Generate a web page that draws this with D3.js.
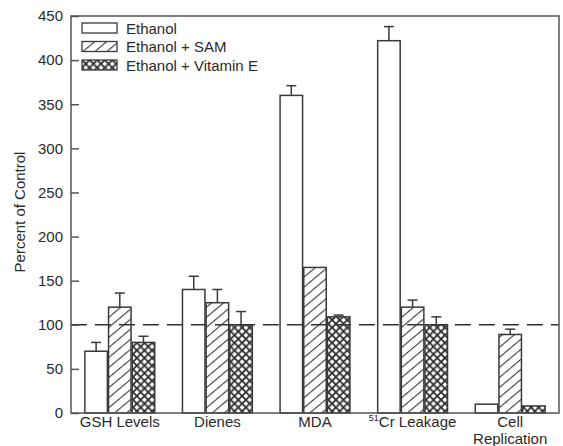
<!DOCTYPE html>
<html>
<head>
<meta charset="utf-8">
<script src="https://cdn.jsdelivr.net/npm/d3@7"></script>
<style>
  body { margin: 0; background: #fff; }
  svg { font-family: "Liberation Sans", Arial, sans-serif; }
</style>
</head>
<body>
<svg id="chart" width="563" height="446"></svg>
<script>
// --- Data ---
const categories = ["GSH Levels", "Dienes", "MDA", "Cr Leakage", "Cell Replication"];
const seriesNames = ["Ethanol", "Ethanol + SAM", "Ethanol + Vitamin E"];
const ethanolValues = [70, 140, 360, 422, 10];
const samValues = [120, 125, 165, 120, 89];
const vitEValues = [80, 100, 109, 100, 8];
const ethanolErrors = [10, 15, 11, 16, 0];
const samErrors = [16, 15, 0, 8, 6];
const vitEErrors = [7, 15, 2, 9, 0];
const yTicks = [0, 50, 100, 150, 200, 250, 300, 350, 400, 450];
const controlLevel = 100;

const seriesValues = [ethanolValues, samValues, vitEValues];
const seriesErrors = [ethanolErrors, samErrors, vitEErrors];
const data = categories.map((c, i) => ({
    category: c,
    bars: seriesNames.map((s, j) => ({ series: s, value: seriesValues[j][i], err: seriesErrors[j][i] }))
}));

// --- Setup ---
const svg = d3.select("#chart");
const margin = { top: 16, right: 4, bottom: 33, left: 71 };
const width = 563 - margin.left - margin.right;
const height = 446 - margin.top - margin.bottom;
const ink = "#3a3a3a";
const textColor = "#2a2a2a";
const fontSize = 15;

const defs = svg.append("defs");
const hatch = defs.append("pattern")
    .attr("id", "hatch").attr("patternUnits", "userSpaceOnUse")
    .attr("width", 7.7).attr("height", 8)
    .attr("patternTransform", "rotate(50)");
hatch.append("rect").attr("width", 7.7).attr("height", 8).attr("fill", "#fff");
hatch.append("line").attr("x1", 0).attr("y1", 0).attr("x2", 0).attr("y2", 8)
    .attr("stroke", ink).attr("stroke-width", 2.2);

const cross = defs.append("pattern")
    .attr("id", "cross").attr("patternUnits", "userSpaceOnUse")
    .attr("width", 7.6).attr("height", 7.6);
cross.append("rect").attr("width", 7.6).attr("height", 7.6).attr("fill", "#fff");
cross.append("path").attr("d", "M0,0L7.6,7.6M7.6,0L0,7.6")
    .attr("stroke", "#2a2a2a").attr("stroke-width", 1.8);

const fills = { "Ethanol": "#fff", "Ethanol + SAM": "url(#hatch)", "Ethanol + Vitamin E": "url(#cross)" };

const g = svg.append("g").attr("transform", `translate(${margin.left},${margin.top})`);

// --- Scales ---
const x0 = d3.scaleBand().domain(categories).range([0, width])
    .paddingInner(0.26).paddingOuter(0.13);
const x1 = d3.scaleBand().domain(seriesNames).range([0, x0.bandwidth()]).padding(0.05);
const y = d3.scaleLinear().domain([0, 450]).range([height, 0]);

// --- Bars ---
const groups = g.selectAll(".group").data(data).join("g")
    .attr("class", "group")
    .attr("transform", d => `translate(${x0(d.category)},0)`);

groups.selectAll("rect").data(d => d.bars).join("rect")
    .attr("x", d => x1(d.series))
    .attr("y", d => y(d.value))
    .attr("width", x1.bandwidth())
    .attr("height", d => height - y(d.value))
    .attr("fill", d => fills[d.series])
    .attr("stroke", ink).attr("stroke-width", 1.5);

// --- Error bars (upper only) ---
const eb = groups.selectAll(".err").data(d => d.bars.filter(b => b.err > 0)).join("g")
    .attr("class", "err")
    .attr("stroke", ink).attr("stroke-width", 1.5);
eb.append("line")
    .attr("x1", d => x1(d.series) + x1.bandwidth() / 2)
    .attr("x2", d => x1(d.series) + x1.bandwidth() / 2)
    .attr("y1", d => y(d.value))
    .attr("y2", d => y(d.value + d.err));
eb.append("line")
    .attr("x1", d => x1(d.series) + x1.bandwidth() / 2 - 5)
    .attr("x2", d => x1(d.series) + x1.bandwidth() / 2 + 5)
    .attr("y1", d => y(d.value + d.err))
    .attr("y2", d => y(d.value + d.err));

// --- Control line ---
g.append("line")
    .attr("x1", 0).attr("x2", width)
    .attr("y1", y(controlLevel)).attr("y2", y(controlLevel))
    .attr("stroke", "#333").attr("stroke-width", 1.5)
    .attr("stroke-dasharray", "16,8");

// --- Frame ---
g.append("rect").attr("width", width).attr("height", height)
    .attr("fill", "none").attr("stroke", "#555").attr("stroke-width", 1.5);

// --- Y axis ---
const yAxis = g.append("g")
    .call(d3.axisLeft(y).tickValues(yTicks).tickSize(-8).tickPadding(8));
yAxis.select(".domain").remove();
yAxis.selectAll("line").attr("stroke", "#555").attr("stroke-width", 1.5);
yAxis.selectAll("text").attr("font-size", fontSize).attr("fill", textColor);

// --- X labels ---
const xLabels = g.append("g").attr("transform", `translate(0,${height})`);
xLabels.selectAll("text").data(categories).join("text")
    .attr("x", d => x0(d) + x0.bandwidth() / 2)
    .attr("y", 14)
    .attr("text-anchor", "middle")
    .attr("font-size", fontSize).attr("fill", textColor)
    .each(function(d) {
        const t = d3.select(this);
        if (d === "Cr Leakage") {
            t.append("tspan").attr("font-size", 9).attr("dy", -6).text("51");
            t.append("tspan").attr("dy", 6).text("Cr Leakage");
        } else if (d === "Cell Replication") {
            t.append("tspan").attr("x", x0(d) + x0.bandwidth() / 2).text("Cell");
            t.append("tspan").attr("x", x0(d) + x0.bandwidth() / 2).attr("dy", 17).text("Replication");
        } else {
            t.text(d);
        }
    });

// --- Y label ---
svg.append("text")
    .attr("transform", `translate(25,212) rotate(-90)`)
    .attr("text-anchor", "middle")
    .attr("font-size", fontSize).attr("fill", textColor)
    .text("Percent of Control");

// --- Legend ---
const legend = g.append("g").attr("transform", "translate(11,7)");
const items = legend.selectAll("g").data(seriesNames).join("g")
    .attr("transform", (d, i) => `translate(0,${i * 18.5})`);
items.append("rect").attr("width", 35).attr("height", 10)
    .attr("fill", d => fills[d]).attr("stroke", ink).attr("stroke-width", 1.3);
items.append("text").attr("x", 44).attr("y", 10.5)
    .attr("font-size", fontSize).attr("fill", textColor)
    .text(d => d);
</script>
</body>
</html>
